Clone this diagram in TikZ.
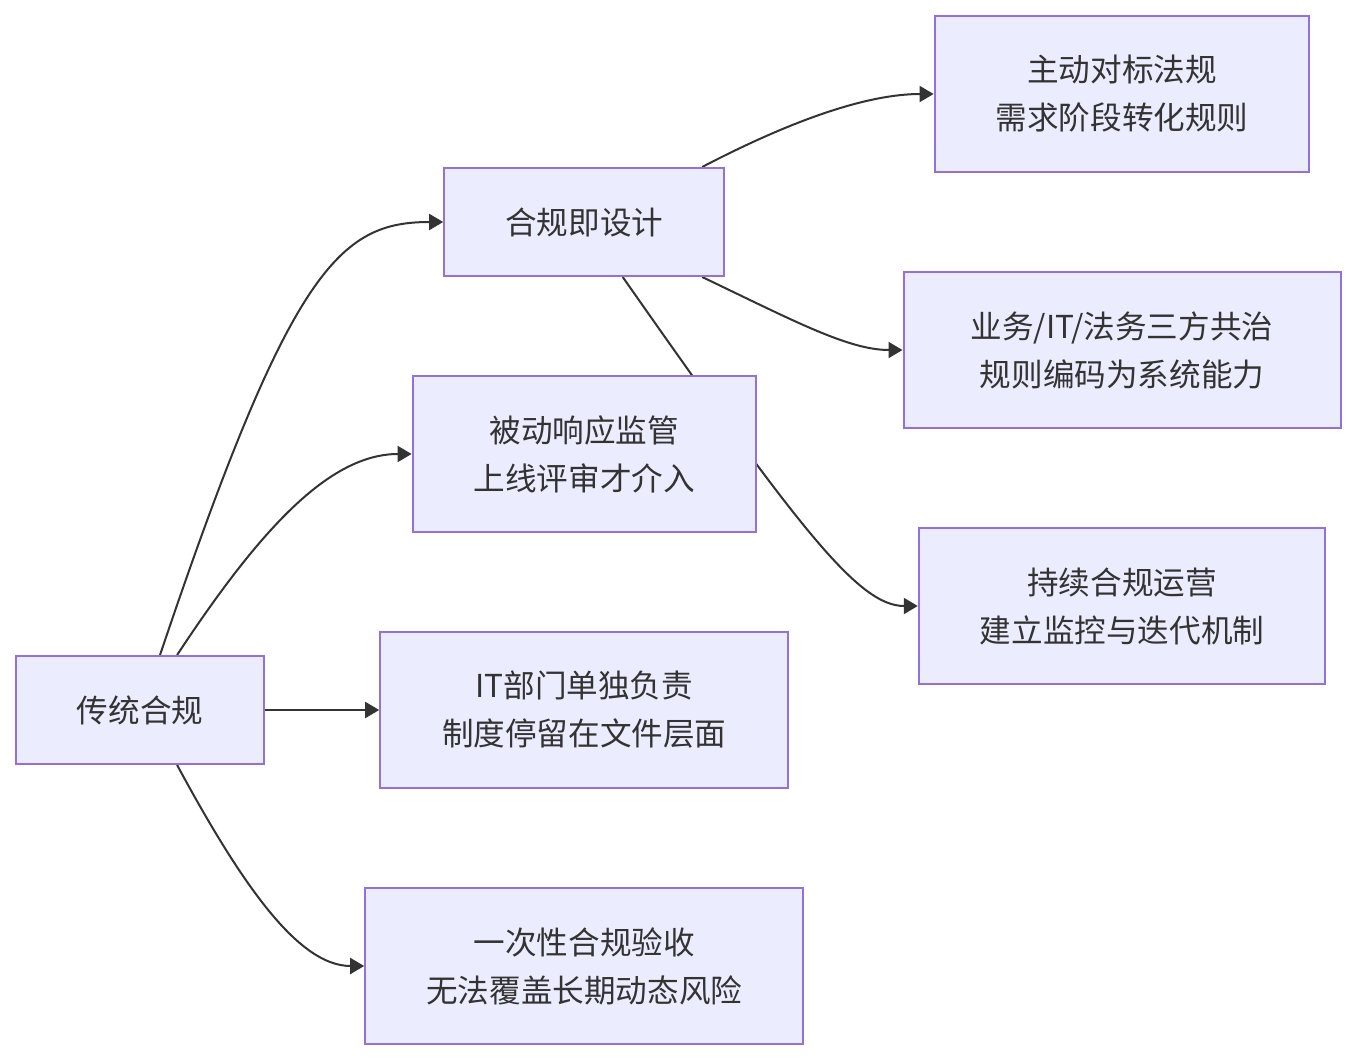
\documentclass[tikz,border=0pt]{standalone}
\usepackage{fontspec}
\setmainfont{Noto Sans CJK SC}
\usepackage{xcolor}
\usepackage{tikz}
\usetikzlibrary{arrows.meta,positioning,backgrounds}
\definecolor{nodefill}{HTML}{ECECFF}
\definecolor{nodeline}{HTML}{9370DB}
\definecolor{inkgray}{HTML}{333333}

\begin{document}
\begin{tikzpicture}[x=0.5pt,y=-0.5pt,
  font=\fontsize{15.8}{24}\selectfont,
  box/.style={draw=nodeline,fill=nodefill,line width=1pt,text=inkgray,align=center,
    inner xsep=30.5pt,inner ysep=0pt,minimum height=54pt},
  tall/.style={box,minimum height=78pt},
  arr/.style={-{Triangle[length=7pt,width=8pt]},draw=inkgray,line width=1pt},
  node distance=49pt]
\useasboundingbox (0,0) rectangle (1357,1060);
\node[box] (bxTrad) at (140,710) {传统合规};
\node[tall,minimum width=204pt,right=57pt of bxTrad] (bxIT) {IT部门单独负责\\制度停留在文件层面};
\node[tall,above=of bxIT] (bxPas) {被动响应监管\\上线评审才介入};
\node[box,above=of bxPas] (bxCid) {合规即设计};
\node[tall,below=of bxIT] (bxOnce) {一次性合规验收\\无法覆盖长期动态风险};
\node[tall,minimum width=218.5pt] (bxGov) at (1122,350) {业务/IT/法务三方共治\\规则编码为系统能力};
\node[tall,above=of bxGov] (bxAct) {主动对标法规\\需求阶段转化规则};
\node[tall,below=of bxGov] (bxOps) {持续合规运营\\建立监控与迭代机制};
\begin{pgfonlayer}{background}
\draw[arr] (bxTrad.70) .. controls +(130,-386) and +(-104,0) .. (bxCid.west);
\draw[arr] (bxTrad.56) .. controls +(83,-126) and +(-82,0) .. (bxPas.west);
\draw[arr] (bxTrad) -- (bxIT);
\draw[arr] (bxTrad.-56) .. controls +(68,126) and +(-64,0) .. (bxOnce.west);
\draw[arr] (bxCid.25) .. controls +(92,-48) and +(-65,0) .. (bxAct.west);
\draw[arr] (bxCid.-25) .. controls +(92,44) and +(-54,0) .. (bxGov.west);
\draw[arr] (bxCid.-55) .. controls +(178,254) and +(-59,0) .. (bxOps.west);
\end{pgfonlayer}
\end{tikzpicture}
\end{document}
